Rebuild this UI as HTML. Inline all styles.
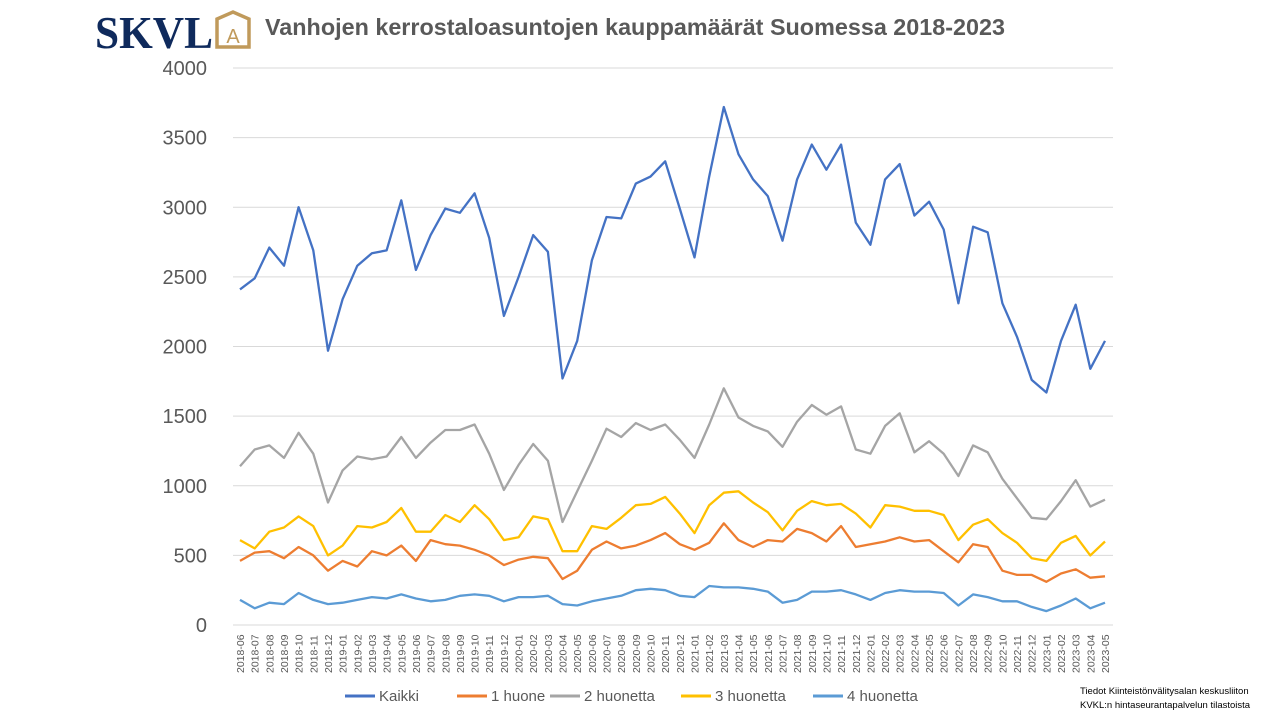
<!DOCTYPE html>
<html><head><meta charset="utf-8"><style>
body{margin:0;background:#fff;width:1280px;height:720px;overflow:hidden;font-family:"Liberation Sans",sans-serif}
</style></head><body>
<svg id="s" width="1280" height="720" xmlns="http://www.w3.org/2000/svg" font-family="Liberation Sans, sans-serif">
<text x="95" y="48" font-family="Liberation Serif, serif" font-weight="bold" font-size="46" fill="#0f2a5c" textLength="118" lengthAdjust="spacingAndGlyphs">SKVL</text>
<g fill="none" stroke="#c09a5b" stroke-width="3.5">
<path d="M217 19 L217 47 L249 47 L249 19 L233 12 Z" stroke-linejoin="miter"/>
</g>
<text x="233" y="43" text-anchor="middle" font-size="20" fill="#c09a5b">A</text>
<text x="265" y="35" font-size="23.5" font-weight="bold" fill="#595959" textLength="740" lengthAdjust="spacingAndGlyphs">Vanhojen kerrostaloasuntojen kauppamäärät Suomessa 2018-2023</text>
<g id="grid"></g>
<g id="lines"></g>
<g id="xl" font-size="10.5" fill="#595959"></g>
<g font-size="15" fill="#595959">
<line x1="345" y1="696" x2="375" y2="696" stroke="#4472C4" stroke-width="3"/><text x="379" y="701">Kaikki</text>
<line x1="457" y1="696" x2="487" y2="696" stroke="#ED7D31" stroke-width="3"/><text x="491" y="701">1 huone</text>
<line x1="550" y1="696" x2="580" y2="696" stroke="#A5A5A5" stroke-width="3"/><text x="584" y="701">2 huonetta</text>
<line x1="681" y1="696" x2="711" y2="696" stroke="#FFC000" stroke-width="3"/><text x="715" y="701">3 huonetta</text>
<line x1="813" y1="696" x2="843" y2="696" stroke="#5B9BD5" stroke-width="3"/><text x="847" y="701">4 huonetta</text>
</g>
<text x="1080" y="694" font-size="9.5" fill="#000">Tiedot Kiinteistönvälitysalan keskusliiton</text>
<text x="1080" y="708" font-size="9.5" fill="#000">KVKL:n hintaseurantapalvelun tilastoista</text>
</svg>
<script>
const NS="http://www.w3.org/2000/svg",x0=240,dx=865/59,y0=625,k=557/4000;
function el(t,a,p,txt){const e=document.createElementNS(NS,t);for(const i in a)e.setAttribute(i,a[i]);if(txt)e.textContent=txt;document.getElementById(p).appendChild(e);}
for(let v=0;v<=4000;v+=500){const y=y0-v*k;el("line",{x1:233,x2:1113,y1:y,y2:y,stroke:"#d9d9d9","stroke-width":1},"grid");el("text",{x:207,y:y+7,"text-anchor":"end","font-size":20,fill:"#595959"},"grid",String(v));}
const D={
"#A5A5A5":[1140,1260,1290,1200,1380,1230,880,1110,1210,1190,1210,1350,1200,1310,1400,1400,1440,1230,970,1150,1300,1180,740,960,1180,1410,1350,1450,1400,1440,1330,1200,1440,1700,1490,1430,1390,1280,1460,1580,1510,1570,1260,1230,1430,1520,1240,1320,1230,1070,1290,1240,1050,910,770,760,890,1040,850,900],
"#ED7D31":[460,520,530,480,560,500,390,460,420,530,500,570,460,610,580,570,540,500,430,470,490,480,330,390,540,600,550,570,610,660,580,540,590,730,610,560,610,600,690,660,600,710,560,580,600,630,600,610,530,450,580,560,390,360,360,310,370,400,340,350],
"#FFC000":[610,550,670,700,780,710,500,570,710,700,740,840,670,670,790,740,860,760,610,630,780,760,530,530,710,690,770,860,870,920,800,660,860,950,960,880,810,680,820,890,860,870,800,700,860,850,820,820,790,610,720,760,660,590,480,460,590,640,500,600],
"#5B9BD5":[180,120,160,150,230,180,150,160,180,200,190,220,190,170,180,210,220,210,170,200,200,210,150,140,170,190,210,250,260,250,210,200,280,270,270,260,240,160,180,240,240,250,220,180,230,250,240,240,230,140,220,200,170,170,130,100,140,190,120,160],
"#4472C4":[2410,2490,2710,2580,3000,2690,1970,2340,2580,2670,2690,3050,2550,2800,2990,2960,3100,2780,2220,2500,2800,2680,1770,2040,2620,2930,2920,3170,3220,3330,2990,2640,3220,3720,3380,3200,3080,2760,3200,3450,3270,3450,2890,2730,3200,3310,2940,3040,2840,2310,2860,2820,2310,2070,1760,1670,2040,2300,1840,2040]};
for(const c in D){el("polyline",{points:D[c].map((v,i)=>(x0+i*dx).toFixed(1)+","+(y0-v*k).toFixed(1)).join(" "),fill:"none",stroke:c,"stroke-width":2.3,"stroke-linejoin":"round"},"lines");}
for(let i=0;i<60;i++){const m=5+i,yr=2018+Math.floor(m/12),mo=m%12+1;const x=x0+i*dx+4;el("text",{x:x,y:673,transform:`rotate(-90 ${x} 673)`},"xl",yr+"-"+String(mo).padStart(2,"0"));}
</script>
</body></html>
